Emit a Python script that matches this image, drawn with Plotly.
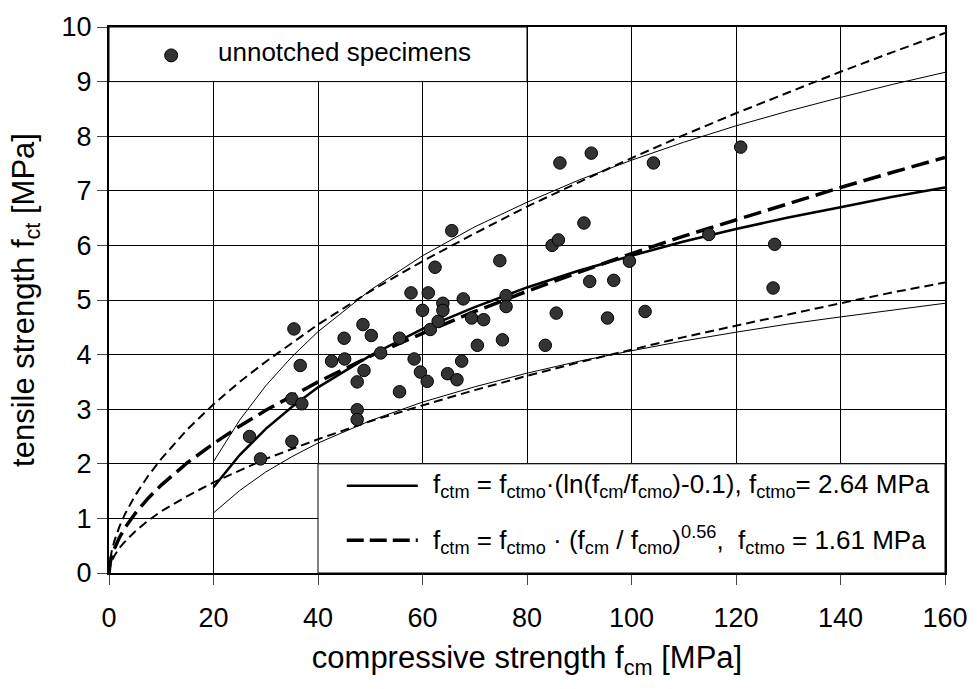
import plotly.graph_objects as go

# ---- measured specimens (compressive strength fcm, tensile strength fct) ----
fcm_data = [26.9, 29.0, 35.0, 35.0, 35.4, 36.6, 36.9, 42.6, 45.0, 45.1,
            47.5, 47.5, 47.5, 48.6, 48.8, 50.2, 52.0, 55.6, 55.6, 57.8,
            58.4, 59.6, 60.0, 60.9, 61.1, 61.5, 62.4, 63.0, 63.9, 63.9,
            64.8, 65.6, 66.6, 67.5, 67.8, 69.4, 70.5, 71.7, 74.8, 75.3,
            76.0, 76.0, 83.5, 84.8, 85.6, 86.0, 86.3, 90.9, 92.0, 92.3,
            95.4, 96.6, 99.6, 102.6, 104.2, 114.8, 120.9, 127.4, 127.1]
fct_data = [2.50, 2.09, 2.41, 3.19, 4.47, 3.80, 3.10, 3.88, 4.30, 3.92,
            3.50, 2.99, 2.81, 4.55, 3.71, 4.35, 4.03, 4.30, 3.32, 5.13,
            3.92, 3.68, 4.81, 3.51, 5.13, 4.46, 5.60, 4.61, 4.94, 4.81,
            3.65, 6.27, 3.54, 3.88, 5.02, 4.67, 4.17, 4.64, 5.72, 4.27,
            5.08, 4.88, 4.17, 6.00, 4.76, 6.10, 7.51, 6.41, 5.34, 7.69,
            4.67, 5.36, 5.71, 4.79, 7.51, 6.20, 7.80, 6.02, 5.22]

# ---- power-law curve (mean, upper and lower band) ----
pow_x = [0, 0.1, 0.25, 0.5, 1, 2, 3, 5, 7.5, 10, 15, 20, 25, 30, 40, 50, 60,
         70, 80, 90, 100, 110, 120, 130, 140, 150, 160]
pow_mean = [0, 0.12, 0.20, 0.30, 0.44, 0.65, 0.82, 1.09, 1.37, 1.61, 2.02, 2.37,
            2.69, 2.98, 3.50, 3.97, 4.39, 4.79, 5.16, 5.51, 5.85, 6.17, 6.47,
            6.77, 7.06, 7.34, 7.61]
pow_upper = [0, 0.16, 0.26, 0.39, 0.58, 0.85, 1.07, 1.42, 1.78, 2.09, 2.63, 3.09,
             3.50, 3.87, 4.55, 5.16, 5.71, 6.22, 6.71, 7.16, 7.60, 8.02, 8.42,
             8.80, 9.18, 9.54, 9.89]
pow_lower = [0, 0.09, 0.14, 0.21, 0.31, 0.46, 0.57, 0.76, 0.96, 1.13, 1.41, 1.66,
             1.88, 2.09, 2.45, 2.78, 3.07, 3.35, 3.61, 3.86, 4.09, 4.32, 4.53,
             4.74, 4.94, 5.14, 5.32]

# ---- logarithmic curve (mean, upper and lower band) ----
log_x = [20, 25, 30, 35, 40, 50, 60, 70, 80, 90, 100, 110, 120, 130, 140, 150, 160]
log_mean = [1.57, 2.16, 2.64, 3.04, 3.40, 3.98, 4.47, 4.87, 5.23, 5.54, 5.81,
            6.07, 6.30, 6.51, 6.70, 6.89, 7.06]
log_upper = [2.04, 2.80, 3.43, 3.96, 4.42, 5.18, 5.81, 6.34, 6.79, 7.20, 7.56,
             7.89, 8.19, 8.46, 8.71, 8.95, 9.17]
log_lower = [1.10, 1.51, 1.85, 2.13, 2.38, 2.79, 3.13, 3.41, 3.66, 3.88, 4.07,
             4.25, 4.41, 4.56, 4.69, 4.82, 4.94]

x_ticks = [0, 20, 40, 60, 80, 100, 120, 140, 160]
y_ticks = [0, 1, 2, 3, 4, 5, 6, 7, 8, 9, 10]

legend_points = "unnotched specimens"
legend_log = ("f<sub>ctm</sub> = f<sub>ctmo</sub>·(ln(f<sub>cm</sub>/f<sub>cmo</sub>)-0.1), "
              "f<sub>ctmo</sub>= 2.64 MPa")
legend_pow = ("f<sub>ctm</sub> = f<sub>ctmo</sub> · (f<sub>cm</sub> / f<sub>cmo</sub>)"
              "<sup>0.56</sup>,&nbsp;&nbsp;f<sub>ctmo</sub> = 1.61 MPa")

FONT = "Arial, Liberation Sans, sans-serif"
FS = 26

fig = go.Figure()

fig.add_trace(go.Scatter(x=log_x, y=log_upper, mode="lines",
                         line=dict(color="black", width=1)))
fig.add_trace(go.Scatter(x=log_x, y=log_lower, mode="lines",
                         line=dict(color="black", width=1)))
fig.add_trace(go.Scatter(x=pow_x, y=pow_upper, mode="lines",
                         line=dict(color="black", width=2, dash="9px,5px")))
fig.add_trace(go.Scatter(x=pow_x, y=pow_lower, mode="lines",
                         line=dict(color="black", width=2, dash="9px,5px")))
fig.add_trace(go.Scatter(x=log_x, y=log_mean, mode="lines",
                         line=dict(color="black", width=2.5)))
fig.add_trace(go.Scatter(x=pow_x, y=pow_mean, mode="lines",
                         line=dict(color="black", width=3.5, dash="18px,7px")))
fig.add_trace(go.Scatter(x=fcm_data, y=fct_data, mode="markers",
                         marker=dict(size=12.5, color="#333333",
                                     line=dict(color="black", width=1))))

# legend boxes (white, above grid, below data)
fig.add_shape(type="rect", x0=0, x1=80, y0=9, y1=10, layer="between",
              fillcolor="white", line=dict(color="black", width=1))
fig.add_shape(type="rect", x0=40, x1=160, y0=0, y1=2, layer="between",
              fillcolor="white", line=dict(color="black", width=1))

# legend symbols
fig.add_shape(type="circle", xref="x", yref="y", xsizemode="pixel", ysizemode="pixel",
              xanchor=11.9, yanchor=9.48, x0=-6.5, x1=6.5, y0=-6.5, y1=6.5,
              fillcolor="#333333", line=dict(color="black", width=1), layer="above")
fig.add_shape(type="line", x0=45.5, x1=59.1, y0=1.6, y1=1.6,
              line=dict(color="black", width=2.5), layer="above")
fig.add_shape(type="line", x0=45.5, x1=59.1, y0=0.6, y1=0.6,
              line=dict(color="black", width=3.5, dash="17px,6px"), layer="above")

fig.add_annotation(x=20.4, y=9.54, text=legend_points, showarrow=False,
                   xanchor="left", yanchor="middle", font=dict(size=FS))
fig.add_annotation(x=61.6, y=1.6, text=legend_log, showarrow=False,
                   xanchor="left", yanchor="middle", font=dict(size=FS))
fig.add_annotation(x=61.6, y=0.6, text=legend_pow, showarrow=False,
                   xanchor="left", yanchor="middle", font=dict(size=FS))

fig.update_layout(
    width=980, height=689,
    margin=dict(l=109, r=28, t=21, b=116),
    paper_bgcolor="white", plot_bgcolor="white",
    showlegend=False,
    font=dict(family=FONT, size=FS, color="black"),
)
fig.update_xaxes(
    range=[0, 160], tickvals=x_ticks, ticks="outside", ticklen=10, tickwidth=1,
    showgrid=True, gridcolor="black", gridwidth=1, zeroline=False,
    showline=True, linecolor="black", linewidth=2, mirror=True,
    ticklabelstandoff=10,
    title=dict(text="compressive strength f<sub>cm</sub> [MPa]", standoff=14),
    tickfont=dict(size=FS + 1),
)
fig.update_yaxes(
    range=[0, 10], tickvals=y_ticks, ticks="outside", ticklen=10, tickwidth=1,
    showgrid=True, gridcolor="black", gridwidth=1, zeroline=False,
    showline=True, linecolor="black", linewidth=2, mirror=True,
    title=dict(text="tensile strength f<sub>ct</sub> [MPa]", standoff=18),
    tickfont=dict(size=FS + 1),
)

fig.write_html("out.html")
